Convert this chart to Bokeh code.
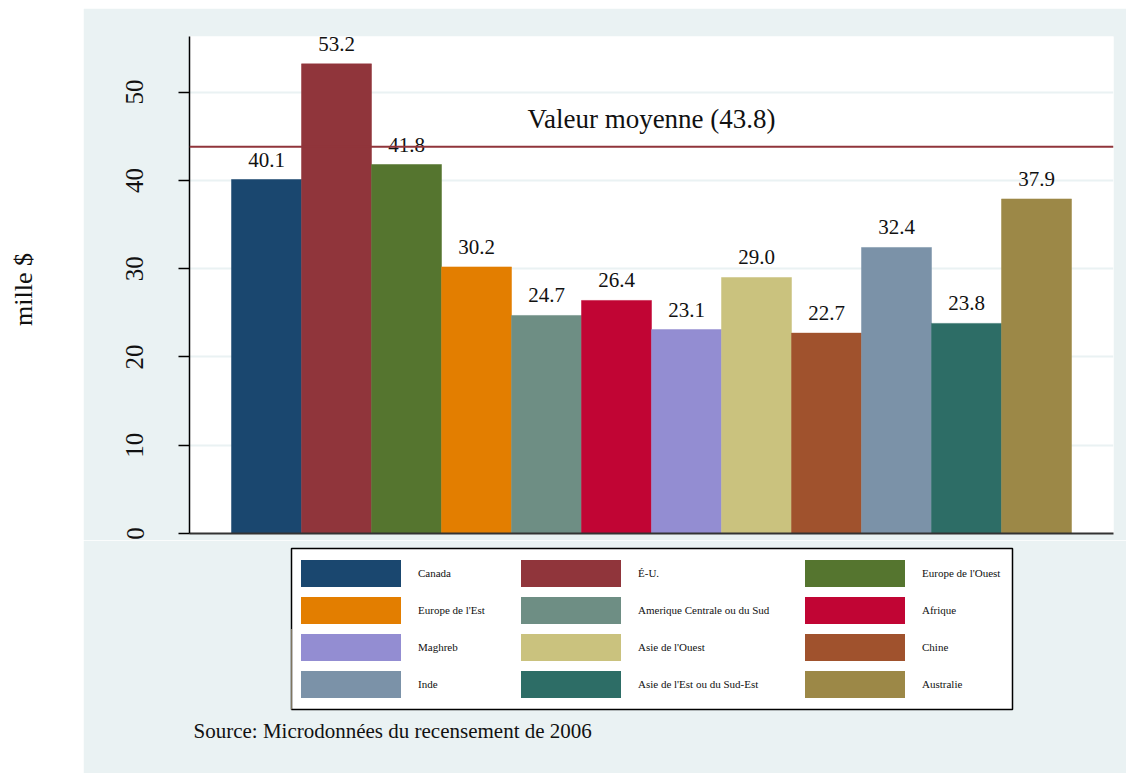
import numpy as np
from bokeh.plotting import figure
from bokeh.layouts import row, column
from bokeh.models import (ColumnDataSource, Range1d, FixedTicker, Span, Label,
                          Legend, LegendItem, Title, Spacer)
from bokeh.core.properties import value
from bokeh.embed import file_html
from bokeh.resources import INLINE

# ---------------- data ----------------
categories = ["Canada", "É-U.", "Europe de l'Ouest", "Europe de l'Est",
              "Amerique Centrale ou du Sud", "Afrique", "Maghreb",
              "Asie de l'Ouest", "Chine", "Inde",
              "Asie de l'Est ou du Sud-Est", "Australie"]
values = [40.1, 53.2, 41.8, 30.2, 24.7, 26.4, 23.1, 29.0, 22.7, 32.4, 23.8, 37.9]
colors = ["#1a476f", "#90353b", "#55752f", "#e37e00", "#6e8e84", "#c10534",
          "#938dd2", "#cac27e", "#a0522d", "#7b92a8", "#2d6d66", "#9c8847"]
mean_value = 43.8
mean_text = "Valeur moyenne (43.8)"
y_ticks = [0, 10, 20, 30, 40, 50]
y_title = "mille $"
source_text = "Source: Microdonnées du recensement de 2006"

FONT = "Liberation Serif"
BG = "#eaf2f3"

idx = list(range(len(categories)))
src = ColumnDataSource(dict(
    x=idx, top=values, color=colors, cat=categories,
    lab=["%.1f" % v for v in values],
))

# ---------------- main plot ----------------
p = figure(width=1043, height=532, output_backend="svg", toolbar_location=None,
           x_range=Range1d(-1.1, 12.1), y_range=Range1d(0, 56.3),
           min_border_left=106, min_border_right=13, min_border_top=28,
           min_border_bottom=7, frame_align=False)
p.background_fill_color = "white"
p.border_fill_color = BG
p.outline_line_color = None

p.vbar(x="x", top="top", width=1.0, bottom=0, source=src,
       fill_color="color", line_color="color", line_width=0.5)

p.text(x="x", y="top", text="lab", source=src, text_align="center",
       text_baseline="alphabetic", y_offset=-20,
       text_font=value(FONT), text_font_size="21px", text_color="#111111")

mean_line = Span(location=mean_value, dimension="width",
                 line_color="#90353b", line_width=2)
p.add_layout(mean_line)
p.text(x=[5.5], y=[mean_value], text=[mean_text], text_align="center",
       text_baseline="alphabetic", y_offset=-28,
       text_font=value(FONT), text_font_size="27px", text_color="#111111")

p.xgrid.visible = False
p.ygrid.ticker = FixedTicker(ticks=y_ticks[1:])
p.ygrid.grid_line_color = BG
p.ygrid.grid_line_width = 2

yax = p.yaxis[0]
yax.ticker = FixedTicker(ticks=y_ticks)
yax.major_label_orientation = "vertical"
yax.major_label_text_font = FONT
yax.major_label_text_font_size = "25px"
yax.major_label_text_color = "#111111"
yax.major_label_standoff = 35
yax.major_tick_in = 0
yax.major_tick_out = 11
yax.minor_tick_in = 0
yax.minor_tick_out = 0
yax.axis_line_color = "black"
yax.axis_line_width = 1.5
yax.major_tick_line_color = "black"
yax.major_tick_line_width = 1.5

xax = p.xaxis[0]
xax.ticker = FixedTicker(ticks=[])
xax.major_tick_out = 0
xax.major_tick_in = 0
xax.minor_tick_out = 0
xax.minor_tick_in = 0
xax.major_label_standoff = 0
xax.axis_line_color = "#333333"
xax.axis_line_width = 2

# ---------------- legend panel ----------------
lg = figure(width=1043, height=233, output_backend="svg", toolbar_location=None,
            x_range=Range1d(0, 1), y_range=Range1d(0, 1),
            x_axis_location=None, y_axis_location=None,
            min_border_left=208, min_border_right=114, min_border_top=8,
            min_border_bottom=64, frame_align=False)
lg.background_fill_color = "white"
lg.border_fill_color = BG
lg.outline_line_color = "black"
lg.outline_line_width = 1.5
lg.xgrid.visible = False
lg.ygrid.visible = False

# legend keys: one hidden (clipped, off-range) bar per category
dummy = []
for c in colors:
    r = lg.vbar(x=[-5], top=[0.5], width=1, fill_color=c, line_color=None)
    dummy.append(r)

col_x = [-3, 217, 501]
for ci in range(3):
    items = [LegendItem(label=categories[i], renderers=[dummy[i]])
             for i in idx if i % 3 == ci]
    leg = Legend(items=items, location=(col_x[ci], 8), orientation="vertical",
                 glyph_width=125, glyph_height=34, label_standoff=5,
                 spacing=3, padding=0, margin=0,
                 border_line_color=None, background_fill_alpha=0,
                 label_text_font=FONT, label_text_font_size="11px",
                 label_text_color="#111111")
    lg.add_layout(leg)

lg.add_layout(Title(text=source_text, align="left", offset=-98, standoff=14,
                    text_font=FONT, text_font_size="21px",
                    text_font_style="normal", text_color="#111111"), "below")

# ---------------- y title panel ----------------
yl = figure(width=83, height=773, output_backend="svg", toolbar_location=None,
            x_range=Range1d(0, 83), y_range=Range1d(0, 773),
            x_axis_location=None, y_axis_location=None,
            min_border=0, frame_align=False)
yl.background_fill_color = "white"
yl.border_fill_color = "white"
yl.outline_line_color = None
yl.xgrid.visible = False
yl.ygrid.visible = False
yl.add_layout(Label(x=23, y=484, text=y_title, angle=np.pi / 2,
                    text_align="center", text_baseline="middle",
                    text_font=FONT, text_font_size="26px",
                    text_color="#111111"))

layout = row(yl, column(Spacer(width=1043, height=8), p, lg, spacing=0), spacing=0)

open("out.html", "w").write(file_html(layout, INLINE))
